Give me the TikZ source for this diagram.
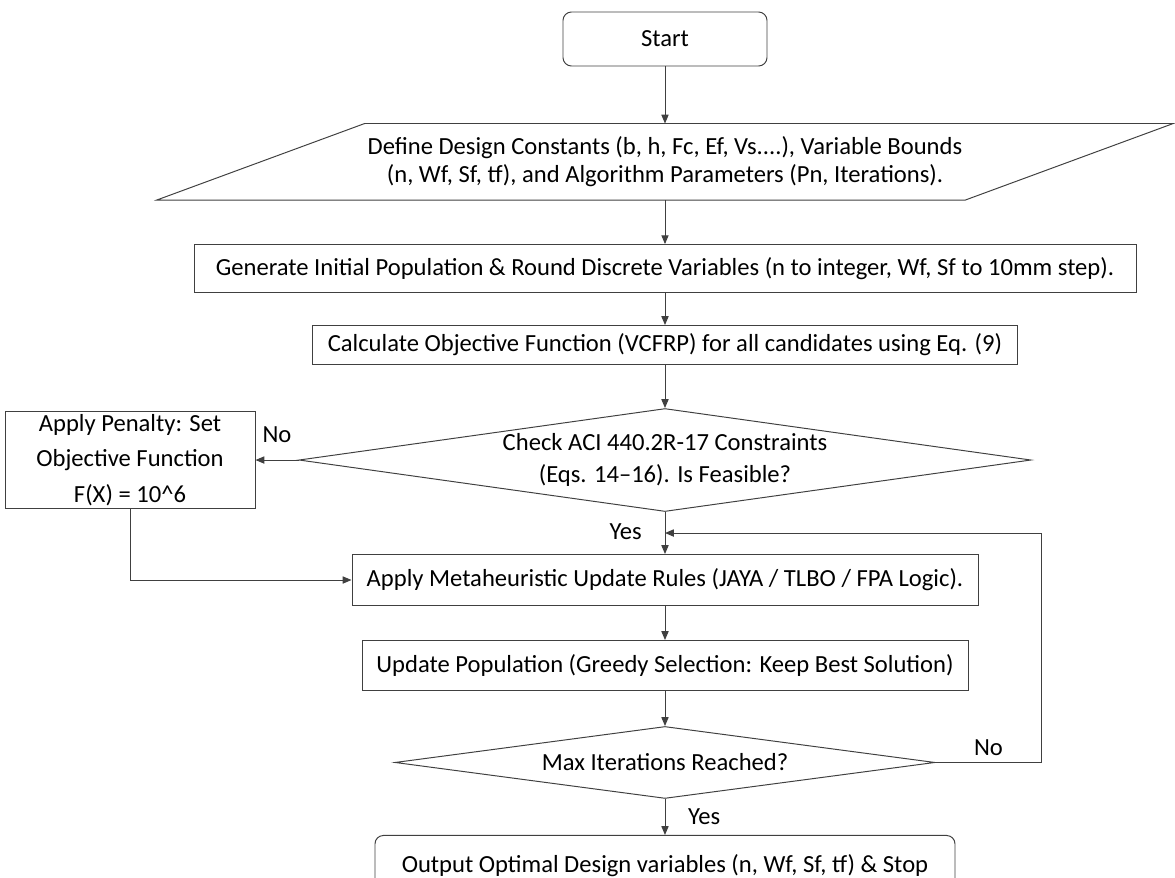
\documentclass[tikz,border=0pt]{standalone}
\usepackage{fontspec}
\setmainfont{Carlito}
\usepackage{tikz}
\usetikzlibrary{arrows.meta,positioning,shapes.geometric,calc}

\begin{document}
\begin{tikzpicture}[node distance=1cm, every node/.style={font=\fontsize{17.5}{20}\selectfont, align=center}, box/.style={rectangle, draw=black!75, line width=0.7pt, inner sep=2pt}, term/.style={box, rounded corners=6pt}, decision/.style={diamond, draw=black!75, line width=0.7pt, inner sep=-4pt}, flow/.style={-{Triangle[length=2.2mm,width=1.8mm]}, draw=black!75, line width=0.7pt}]
\useasboundingbox (-16.625,0.975) rectangle (12.75,-20.95);
\clip (-16.625,0.975) rectangle (12.75,-20.95);
\node[term, minimum width=5.1cm, minimum height=1.35cm] (start) {Start};
\node[minimum width=25.4cm, minimum height=1.9cm, below=1.425cm of start] (define) {Define Design Constants (b, h, Fc, Ef, Vs....), Variable Bounds\\(n, Wf, Sf, tf), and Algorithm Parameters (Pn, Iterations).};
\draw[draw=black!75, line width=0.7pt] (define.south west) -- ([xshift=-5.2cm]define.south east) -- (define.north east) -- ([xshift=5.2cm]define.north west) -- cycle;
\node[box, minimum width=23.55cm, minimum height=1.2cm, below=1.1cm of define] (init) {Generate Initial Population \& Round Discrete Variables (n to integer, Wf, Sf to 10mm step).};
\node[box, minimum width=17.625cm, minimum height=0.975cm, below=0.8cm of init] (calc) {Calculate Objective Function (VCFRP) for all candidates using Eq. (9)};
\node[decision, minimum width=18.3cm, minimum height=2.575cm, aspect=7.1, below=1.075cm of calc] (check) {Check ACI 440.2R-17 Constraints\\[3pt](Eqs. 14–16). Is Feasible?};
\node[box, minimum width=6.25cm, minimum height=2.4cm, left=1.075cm of check] (penalty) {Apply Penalty: Set\\[5pt]Objective Function\\[5pt]F(X) = 10\textasciicircum 6};
\node[box, minimum width=15.65cm, minimum height=1.275cm, below=1.05cm of check] (update) {Apply Metaheuristic Update Rules (JAYA / TLBO / FPA Logic).};
\node[box, minimum width=15.15cm, minimum height=1.25cm, below=0.85cm of update] (greedy) {Update Population (Greedy Selection: Keep Best Solution)};
\node[decision, minimum width=13.5cm, minimum height=1.8cm, aspect=7.5, below=0.875cm of greedy] (maxit) {Max Iterations Reached?};
\node[term, minimum width=14.5cm, minimum height=1.5cm, below=0.9cm of maxit] (output) {Output Optimal Design variables (n, Wf, Sf, tf) \& Stop};
\coordinate (join) at ($(check.south)!0.5!(update.north)$);
% main flow
\draw[flow] (start) -- (define);
\draw[flow] (define) -- (init);
\draw[flow] (init) -- (calc);
\draw[flow] (calc) -- (check);
\draw[flow] (check) -- node[pos=0.48, left=0.45cm] {Yes} (update);
\draw[flow] (update) -- (greedy);
\draw[flow] (greedy) -- (maxit);
\draw[flow] (maxit) -- node[pos=0.5, right=0.45cm] {Yes} (output);
% penalty branch
\draw[flow] (check.west) -- node[above=0.3cm] {No} (penalty.east);
\draw[flow] (penalty.south) |- (update.west);
% loop back
\draw[flow] (maxit.east) -- node[above=0.05cm] {No} ++(2.65cm,0) |- (join);
\end{tikzpicture}
\end{document}
